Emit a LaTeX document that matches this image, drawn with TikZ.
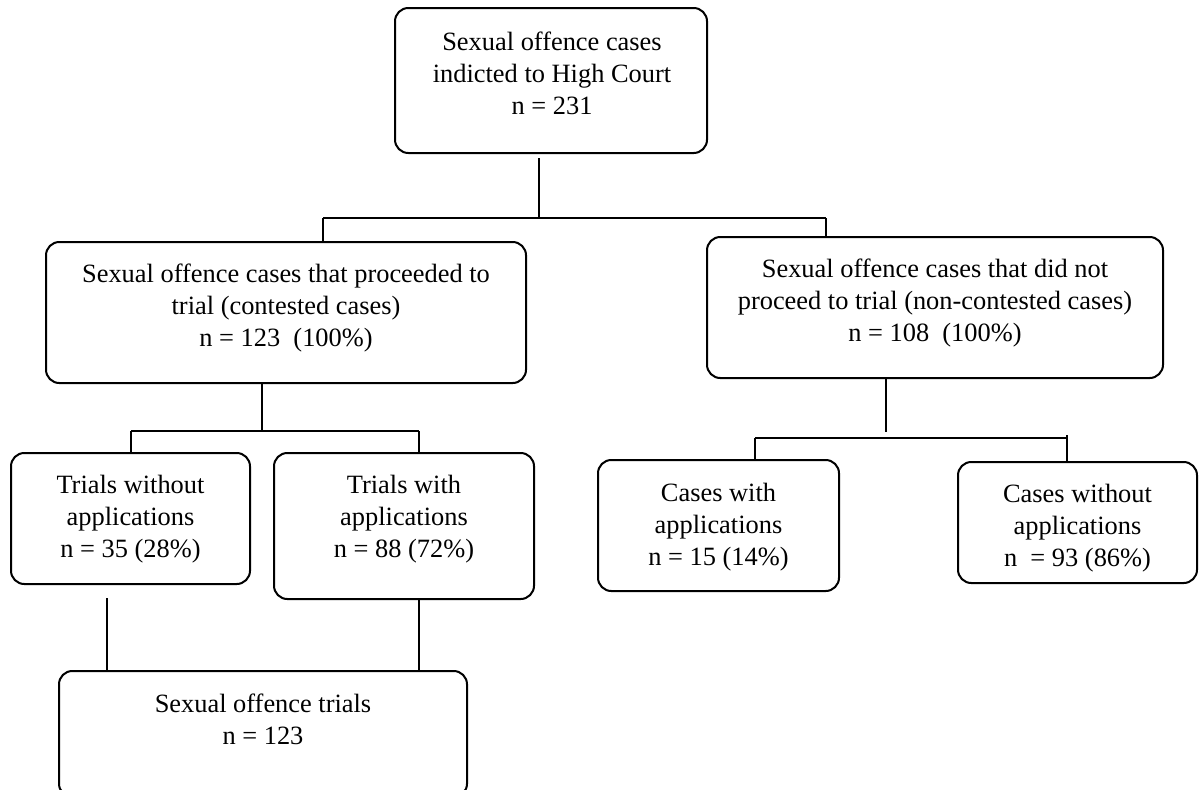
\documentclass[tikz,border=0pt]{standalone}
\usepackage{fontspec}
\setmainfont{Liberation Serif}
\begin{document}
\begin{tikzpicture}[x=0.75pt,y=-0.75pt,
  box/.style={draw, line width=1.5pt, rounded corners=10pt, inner sep=0pt},
  txt/.style={align=center, inner sep=0pt, anchor=north, font=\fontsize{19.8}{24}\selectfont},
  conn/.style={line width=1.5pt}]
\useasboundingbox (0,0) rectangle (1199,789);
\clip (0,0) rectangle (1199,789);
% boxes
\node[box, minimum width=312*0.75pt, minimum height=145*0.75pt] (top) at (551,80.5) {};
\node[box, minimum width=480*0.75pt, minimum height=141*0.75pt] (L) at (286,312.5) {};
\node[box, minimum width=456*0.75pt, minimum height=141*0.75pt] (R) at (935,307.5) {};
\node[box, minimum width=239*0.75pt, minimum height=131*0.75pt] (TW) at (130.5,518.5) {};
\node[box, minimum width=260*0.75pt, minimum height=146*0.75pt] (TA) at (404,526) {};
\node[box, minimum width=241*0.75pt, minimum height=131*0.75pt] (CW) at (718.5,525.5) {};
\node[box, minimum width=239*0.75pt, minimum height=121*0.75pt] (CO) at (1077.5,522.5) {};
\node[box, minimum width=408*0.75pt, minimum height=126*0.75pt] (B) at (263,734) {};
% texts
\node[txt] (topt) at (552,32) {Sexual offence cases\\indicted to High Court\\n = 231};
\node[txt] (Lt) at (286,264) {Sexual offence cases that proceeded to\\trial (contested cases)\\n = 123\ \ (100\%)};
\node[txt] (Rt) at (935,259) {Sexual offence cases that did not\\proceed to trial (non-contested cases)\\n = 108\ \ (100\%)};
\node[txt] (TWt) at (130.5,475) {Trials without\\applications\\n = 35 (28\%)};
\node[txt] (TAt) at (404,475) {Trials with\\applications\\n = 88 (72\%)};
\node[txt] (CWt) at (718.5,483) {Cases with\\applications\\n = 15 (14\%)};
\node[txt] (COt) at (1077.5,484) {Cases without\\applications\\n\ \ = 93 (86\%)};
\node[txt] (Bt) at (263,694) {Sexual offence trials\\n = 123};
% junction coordinates
\coordinate (j1) at (539,218);
\coordinate (j1l) at (323,218);
\coordinate (j1r) at (826,218);
\coordinate (j2) at (262,431);
\coordinate (j2l) at (131,431);
\coordinate (j2r) at (419,431);
\coordinate (j3) at (886,432);
\coordinate (j3l) at (755,438);
\coordinate (j3r) at (1067,438);
\coordinate (j4) at (107,598);
% connectors
\draw[conn] ([yshift=-3pt]top.south -| j1) -- (j1);
\draw[conn] (j1l) -- (j1r);
\draw[conn] (j1l) -- (L.north -| j1l);
\draw[conn] (j1r) -- (R.north -| j1r);
\draw[conn] (L.south -| j2) -- (j2);
\draw[conn] (j2l) -- (j2r);
\draw[conn] (j2l) -- (TW.north -| j2l);
\draw[conn] (j2r) -- (TA.north -| j2r);
\draw[conn] (R.south -| j3) -- (j3);
\draw[conn] (j3l) -- (j3r);
\draw[conn] (j3l) -- (CW.north -| j3l);
\draw[conn] ([yshift=2.25pt]j3r) -- (CO.north -| j3r);
\draw[conn] (j4) -- (B.north -| j4);
\draw[conn] (TA.south -| j2r) -- (B.north -| j2r);
\end{tikzpicture}
\end{document}
